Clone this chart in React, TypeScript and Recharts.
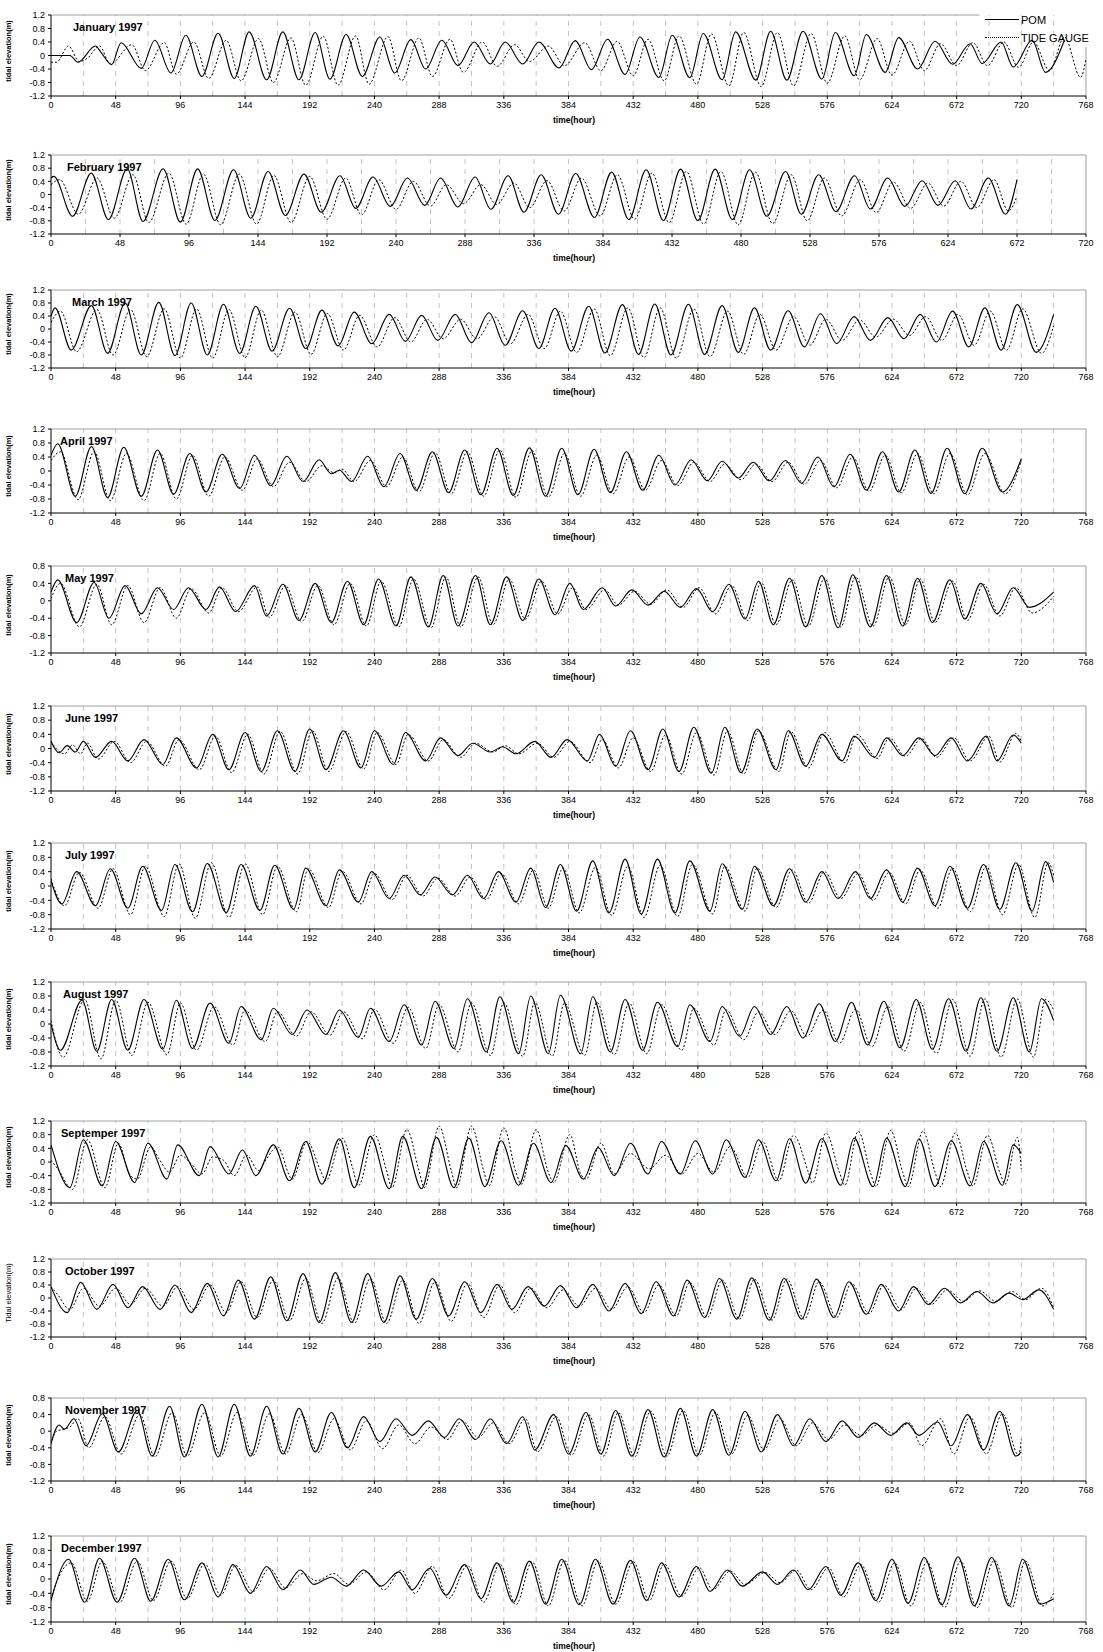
import React from "react";
import { LineChart, Line, XAxis, YAxis, ReferenceLine } from "recharts";

type Pt = [number, number];

// x / y ticks
const ticks768 = [0, 48, 96, 144, 192, 240, 288, 336, 384, 432, 480, 528, 576, 624, 672, 720, 768];
const ticks720 = [0, 48, 96, 144, 192, 240, 288, 336, 384, 432, 480, 528, 576, 624, 672, 720];
const grid768 = [24, 48, 72, 96, 120, 144, 168, 192, 216, 240, 264, 288, 312, 336, 360, 384, 408, 432, 456, 480, 504, 528, 552, 576, 600, 624, 648, 672, 696, 720, 744];
const grid720 = [24, 48, 72, 96, 120, 144, 168, 192, 216, 240, 264, 288, 312, 336, 360, 384, 408, 432, 456, 480, 504, 528, 552, 576, 600, 624, 648, 672, 696];
const yTicksFull = [1.2, 0.8, 0.4, 0, -0.4, -0.8, -1.2];
const yTicksShort = [0.8, 0.4, 0, -0.4, -0.8, -1.2];

// [hour, elevation m] read at the turning points of each curve
const janPom: Pt[] = [[0,0],[14,0],[20,-0.2],[33,0.28],[37,0.1],[45,-0.27],[52,0.38],[67,-0.38],[77,0.45],[89,-0.52],[100,0.6],[112,-0.62],[124,0.66],[136,-0.68],[147,0.7],[160,-0.72],[172,0.7],[184,-0.72],[196,0.68],[207,-0.7],[219,0.62],[231,-0.62],[244,0.55],[255,-0.52],[267,0.47],[278,-0.4],[290,0.45],[302,-0.3],[314,0.4],[326,-0.25],[337,0.4],[350,-0.25],[362,0.4],[377,-0.37],[389,0.44],[401,-0.42],[413,0.48],[426,-0.56],[437,0.55],[451,-0.65],[461,0.6],[474,-0.66],[484,0.65],[498,-0.72],[508,0.7],[523,-0.73],[534,0.72],[546,-0.73],[558,0.72],[572,-0.7],[582,0.68],[596,-0.6],[605,0.62],[619,-0.5],[629,0.53],[643,-0.4],[656,0.42],[669,-0.26],[682,0.35],[691,-0.24],[705,0.4],[714,-0.34],[728,0.45],[738,-0.5],[752,0.45]];
const janGauge: Pt[] = [[0,-0.2],[4,-0.2],[13,0.28],[21,-0.18],[27,-0.08],[36,0.28],[44,-0.25],[60,0.32],[70,-0.45],[84,0.38],[93,-0.55],[106,0.4],[117,-0.68],[130,0.45],[141,-0.75],[154,0.5],[165,-0.8],[178,0.52],[189,-0.88],[202,0.57],[213,-0.88],[226,0.58],[236,-0.85],[250,0.56],[260,-0.75],[273,0.52],[283,-0.62],[296,0.48],[306,-0.5],[320,0.4],[331,-0.32],[344,0.32],[355,-0.18],[369,0.28],[381,-0.3],[396,0.38],[408,-0.45],[420,0.42],[432,-0.6],[443,0.48],[455,-0.75],[466,0.58],[479,-0.85],[490,0.64],[503,-0.9],[514,0.68],[527,-0.92],[539,0.68],[551,-0.9],[564,0.65],[576,-0.82],[589,0.58],[600,-0.72],[613,0.5],[624,-0.58],[637,0.42],[648,-0.45],[660,0.35],[672,-0.3],[684,0.38],[695,-0.3],[707,0.4],[718,-0.35],[729,0.4],[741,-0.45],[752,0.55],[764,-0.65],[768,-0.1]];

const febPom: Pt[] = [[0,0.5],[2,0.55],[15,-0.66],[28,0.65],[40,-0.76],[53,0.78],[64,-0.82],[78,0.78],[90,-0.84],[102,0.78],[114,-0.79],[127,0.75],[139,-0.72],[151,0.7],[163,-0.64],[176,0.62],[188,-0.54],[201,0.57],[212,-0.42],[224,0.53],[236,-0.36],[248,0.5],[260,-0.33],[271,0.5],[283,-0.38],[295,0.53],[306,-0.45],[318,0.57],[329,-0.54],[341,0.6],[353,-0.6],[365,0.64],[378,-0.7],[390,0.68],[402,-0.76],[414,0.75],[426,-0.79],[438,0.77],[450,-0.79],[462,0.77],[474,-0.76],[486,0.75],[498,-0.66],[511,0.7],[522,-0.6],[534,0.6],[546,-0.52],[559,0.57],[570,-0.44],[582,0.5],[594,-0.36],[606,0.42],[617,-0.33],[629,0.42],[640,-0.44],[652,0.5],[664,-0.6],[672,0.45]];
const febGauge: Pt[] = [[0,0.3],[6,0.45],[19,-0.6],[32,0.5],[44,-0.72],[57,0.6],[68,-0.85],[82,0.65],[94,-0.9],[106,0.62],[118,-0.92],[131,0.62],[143,-0.9],[155,0.58],[167,-0.85],[180,0.55],[192,-0.75],[205,0.5],[216,-0.62],[228,0.45],[240,-0.45],[252,0.4],[264,-0.35],[275,0.3],[287,-0.28],[299,0.3],[310,-0.3],[322,0.35],[333,-0.4],[345,0.42],[357,-0.5],[369,0.5],[382,-0.65],[394,0.6],[406,-0.75],[418,0.65],[430,-0.85],[442,0.7],[454,-0.9],[466,0.7],[478,-0.92],[490,0.68],[502,-0.88],[515,0.6],[526,-0.8],[538,0.5],[550,-0.65],[563,0.45],[574,-0.55],[586,0.38],[598,-0.42],[610,0.35],[621,-0.35],[633,0.4],[644,-0.4],[656,0.45],[666,-0.5],[672,-0.05]];

const marPom: Pt[] = [[0,0.4],[3,0.65],[15,-0.65],[30,0.72],[42,-0.75],[55,0.8],[67,-0.8],[80,0.82],[92,-0.82],[104,0.8],[116,-0.8],[128,0.76],[140,-0.75],[152,0.7],[164,-0.68],[177,0.64],[189,-0.6],[201,0.58],[213,-0.52],[225,0.52],[238,-0.45],[251,0.45],[263,-0.38],[275,0.42],[287,-0.35],[300,0.45],[312,-0.42],[325,0.5],[337,-0.5],[350,0.56],[362,-0.6],[374,0.64],[386,-0.68],[399,0.7],[411,-0.74],[424,0.75],[436,-0.78],[448,0.77],[460,-0.8],[473,0.76],[485,-0.78],[498,0.72],[510,-0.72],[522,0.65],[534,-0.65],[547,0.56],[559,-0.55],[571,0.47],[583,-0.45],[596,0.38],[608,-0.35],[621,0.35],[633,-0.3],[645,0.45],[657,-0.4],[669,0.55],[681,-0.55],[693,0.65],[705,-0.65],[717,0.75],[731,-0.72],[744,0.45]];
const marGauge: Pt[] = [[0,0.2],[7,0.55],[19,-0.7],[34,0.6],[46,-0.8],[59,0.6],[71,-0.85],[84,0.62],[96,-0.9],[108,0.62],[120,-0.9],[132,0.6],[144,-0.88],[156,0.58],[168,-0.85],[181,0.52],[193,-0.78],[205,0.48],[217,-0.65],[229,0.42],[242,-0.55],[255,0.35],[267,-0.4],[279,0.3],[291,-0.3],[304,0.3],[316,-0.3],[329,0.38],[341,-0.45],[354,0.45],[366,-0.6],[378,0.55],[390,-0.72],[403,0.62],[415,-0.82],[428,0.65],[440,-0.88],[452,0.65],[464,-0.9],[477,0.62],[489,-0.85],[502,0.55],[514,-0.78],[526,0.45],[538,-0.65],[551,0.38],[563,-0.5],[575,0.3],[587,-0.35],[600,0.28],[612,-0.25],[625,0.3],[637,-0.2],[649,0.38],[661,-0.35],[673,0.45],[685,-0.5],[697,0.55],[709,-0.65],[721,0.62],[735,-0.75],[744,0.1]];

const aprPom: Pt[] = [[0,0.45],[5,0.78],[18,-0.72],[30,0.7],[42,-0.76],[54,0.68],[67,-0.72],[79,0.6],[91,-0.66],[103,0.5],[115,-0.6],[127,0.48],[140,-0.5],[151,0.45],[163,-0.42],[175,0.42],[187,-0.3],[199,0.32],[208,-0.08],[214,0.02],[223,-0.3],[235,0.42],[247,-0.45],[259,0.5],[271,-0.55],[283,0.55],[295,-0.62],[307,0.6],[319,-0.68],[331,0.65],[343,-0.7],[355,0.66],[367,-0.72],[379,0.65],[391,-0.68],[403,0.62],[415,-0.62],[427,0.55],[439,-0.55],[451,0.45],[463,-0.4],[475,0.32],[487,-0.28],[498,0.28],[510,-0.2],[521,0.25],[533,-0.28],[545,0.3],[557,-0.35],[569,0.4],[581,-0.45],[593,0.48],[605,-0.55],[617,0.55],[629,-0.6],[641,0.6],[653,-0.64],[665,0.65],[678,-0.65],[691,0.65],[706,-0.6],[720,0.35]];
const aprGauge: Pt[] = [[0,0.3],[7,0.55],[20,-0.82],[32,0.55],[44,-0.85],[56,0.5],[69,-0.85],[81,0.5],[93,-0.8],[105,0.45],[117,-0.72],[129,0.4],[142,-0.55],[153,0.35],[165,-0.45],[177,0.25],[189,-0.3],[201,0.15],[210,-0.05],[216,0.05],[225,-0.3],[237,0.3],[249,-0.45],[261,0.4],[273,-0.6],[285,0.52],[297,-0.65],[309,0.55],[321,-0.72],[333,0.6],[345,-0.75],[357,0.58],[369,-0.75],[381,0.5],[393,-0.72],[405,0.45],[417,-0.65],[429,0.4],[441,-0.55],[453,0.3],[465,-0.42],[477,0.25],[489,-0.3],[500,0.2],[512,-0.25],[523,0.2],[535,-0.3],[547,0.25],[559,-0.38],[571,0.3],[583,-0.48],[595,0.4],[607,-0.58],[619,0.45],[631,-0.62],[643,0.5],[655,-0.65],[667,0.5],[680,-0.68],[693,0.5],[708,-0.65],[720,0.3]];

const mayPom: Pt[] = [[0,0.2],[5,0.48],[19,-0.5],[32,0.42],[43,-0.4],[55,0.35],[67,-0.3],[79,0.3],[91,-0.2],[102,0.3],[115,-0.2],[125,0.32],[137,-0.25],[151,0.35],[160,-0.35],[172,0.38],[184,-0.45],[196,0.4],[208,-0.5],[220,0.45],[232,-0.55],[243,0.5],[256,-0.58],[267,0.55],[280,-0.6],[291,0.58],[302,-0.58],[315,0.58],[326,-0.55],[338,0.55],[350,-0.45],[362,0.5],[374,-0.32],[385,0.4],[395,-0.2],[409,0.3],[419,-0.12],[431,0.25],[443,-0.1],[455,0.22],[467,-0.15],[479,0.28],[491,-0.25],[503,0.38],[515,-0.42],[525,0.45],[536,-0.55],[548,0.52],[560,-0.6],[572,0.58],[584,-0.62],[595,0.6],[608,-0.6],[620,0.58],[632,-0.58],[643,0.52],[654,-0.5],[667,0.48],[678,-0.42],[690,0.4],[702,-0.3],[714,0.3],[726,-0.15],[744,0.2]];
const mayGauge: Pt[] = [[0,0.05],[7,0.4],[21,-0.6],[34,0.38],[45,-0.55],[57,0.35],[69,-0.5],[81,0.3],[93,-0.4],[104,0.28],[117,-0.28],[127,0.3],[139,-0.25],[153,0.32],[162,-0.38],[174,0.35],[186,-0.48],[198,0.35],[210,-0.55],[222,0.4],[234,-0.58],[245,0.45],[258,-0.6],[269,0.5],[282,-0.62],[293,0.55],[304,-0.6],[317,0.55],[328,-0.55],[340,0.5],[352,-0.42],[364,0.45],[376,-0.3],[387,0.3],[397,-0.2],[411,0.25],[421,-0.1],[433,0.22],[445,-0.08],[457,0.25],[469,-0.15],[481,0.3],[493,-0.3],[505,0.35],[517,-0.45],[527,0.42],[538,-0.55],[550,0.48],[562,-0.58],[574,0.52],[586,-0.6],[597,0.55],[610,-0.58],[622,0.55],[634,-0.55],[645,0.5],[656,-0.5],[669,0.45],[680,-0.45],[692,0.38],[704,-0.35],[716,0.3],[728,-0.28],[744,0.1]];

const junPom: Pt[] = [[0,0.2],[6,-0.12],[12,0.08],[18,-0.1],[24,0.2],[33,-0.25],[45,0.2],[57,-0.35],[69,0.25],[83,-0.45],[93,0.3],[108,-0.55],[120,0.4],[132,-0.6],[144,0.45],[156,-0.65],[168,0.5],[181,-0.65],[192,0.55],[204,-0.6],[217,0.5],[230,-0.55],[240,0.5],[254,-0.45],[263,0.45],[278,-0.35],[289,0.3],[302,-0.2],[313,0.15],[326,-0.1],[335,0.05],[345,-0.15],[359,0.2],[371,-0.25],[383,0.25],[398,-0.35],[407,0.4],[419,-0.5],[430,0.5],[443,-0.6],[454,0.55],[466,-0.65],[477,0.6],[490,-0.7],[500,0.6],[512,-0.68],[524,0.55],[538,-0.6],[547,0.5],[560,-0.5],[572,0.4],[587,-0.35],[596,0.35],[611,-0.25],[620,0.3],[632,-0.2],[644,0.3],[656,-0.2],[668,0.3],[680,-0.35],[694,0.35],[702,-0.35],[714,0.38],[720,0.15]];
const junGauge: Pt[] = [[0,0.2],[5,-0.05],[10,-0.15],[16,0.1],[22,-0.15],[27,0.15],[35,-0.3],[47,0.2],[59,-0.4],[71,0.2],[85,-0.5],[95,0.25],[110,-0.6],[122,0.35],[134,-0.68],[146,0.4],[158,-0.72],[170,0.48],[183,-0.72],[194,0.5],[206,-0.65],[219,0.48],[232,-0.58],[242,0.45],[256,-0.45],[265,0.4],[280,-0.35],[291,0.25],[304,-0.25],[315,0.15],[328,-0.1],[337,0.08],[347,-0.15],[361,0.15],[373,-0.25],[385,0.2],[400,-0.4],[409,0.25],[421,-0.55],[432,0.3],[445,-0.65],[456,0.38],[468,-0.72],[479,0.45],[492,-0.75],[502,0.5],[514,-0.72],[525,0.5],[540,-0.65],[549,0.48],[562,-0.55],[574,0.45],[589,-0.4],[598,0.4],[613,-0.28],[622,0.3],[634,-0.22],[646,0.28],[657,-0.25],[670,0.3],[682,-0.35],[696,0.35],[704,-0.38],[716,0.42],[720,0.2]];

const julPom: Pt[] = [[0,0.15],[8,-0.5],[19,0.4],[33,-0.55],[44,0.48],[57,-0.62],[68,0.55],[82,-0.68],[92,0.6],[105,-0.72],[116,0.63],[130,-0.74],[141,0.6],[155,-0.68],[166,0.58],[180,-0.65],[189,0.5],[204,-0.55],[214,0.45],[228,-0.45],[238,0.4],[251,-0.35],[262,0.3],[274,-0.25],[285,0.25],[298,-0.25],[309,0.3],[321,-0.35],[332,0.4],[345,-0.45],[356,0.5],[367,-0.6],[378,0.6],[390,-0.7],[402,0.7],[414,-0.75],[426,0.75],[438,-0.78],[450,0.75],[463,-0.75],[474,0.7],[489,-0.7],[498,0.62],[513,-0.65],[522,0.55],[536,-0.55],[548,0.48],[560,-0.45],[572,0.4],[584,-0.35],[597,0.4],[608,-0.35],[620,0.45],[632,-0.45],[643,0.5],[656,-0.55],[667,0.55],[680,-0.62],[692,0.6],[704,-0.65],[716,0.65],[728,-0.7],[738,0.68],[744,0.1]];
const julGauge: Pt[] = [[0,0.2],[10,-0.55],[21,0.38],[35,-0.62],[46,0.48],[59,-0.8],[70,0.55],[84,-0.85],[95,0.62],[107,-0.9],[119,0.65],[132,-0.88],[144,0.62],[157,-0.8],[168,0.55],[182,-0.72],[191,0.48],[206,-0.6],[216,0.42],[230,-0.5],[240,0.35],[253,-0.38],[264,0.3],[276,-0.28],[287,0.22],[300,-0.28],[311,0.25],[323,-0.38],[334,0.35],[347,-0.5],[358,0.45],[369,-0.62],[380,0.5],[392,-0.75],[404,0.52],[416,-0.82],[428,0.55],[440,-0.88],[452,0.58],[465,-0.85],[476,0.6],[491,-0.78],[500,0.55],[515,-0.7],[524,0.5],[538,-0.6],[550,0.45],[562,-0.48],[574,0.4],[586,-0.35],[599,0.35],[610,-0.4],[622,0.38],[634,-0.5],[645,0.45],[658,-0.62],[669,0.5],[682,-0.72],[694,0.55],[706,-0.8],[718,0.6],[730,-0.88],[740,0.65],[744,0.3]];

const augPom: Pt[] = [[0,0],[7,-0.75],[23,0.68],[34,-0.78],[45,0.7],[57,-0.75],[69,0.7],[83,-0.72],[93,0.68],[105,-0.7],[118,0.6],[132,-0.55],[141,0.5],[156,-0.45],[165,0.45],[179,-0.3],[190,0.4],[204,-0.3],[214,0.4],[228,-0.38],[237,0.45],[251,-0.5],[262,0.55],[275,-0.6],[285,0.65],[299,-0.7],[309,0.72],[323,-0.8],[333,0.78],[347,-0.85],[356,0.8],[369,-0.85],[378,0.82],[393,-0.85],[402,0.78],[415,-0.8],[426,0.7],[439,-0.75],[450,0.62],[465,-0.65],[474,0.55],[489,-0.5],[498,0.5],[511,-0.35],[522,0.5],[534,-0.3],[546,0.5],[558,-0.4],[570,0.58],[582,-0.5],[594,0.62],[606,-0.6],[618,0.65],[630,-0.68],[642,0.7],[654,-0.72],[666,0.72],[679,-0.78],[690,0.75],[702,-0.78],[714,0.75],[726,-0.8],[735,0.72],[744,0.1]];
const augGauge: Pt[] = [[0,0.1],[9,-0.95],[25,0.7],[37,-1.0],[48,0.68],[60,-0.9],[72,0.62],[86,-0.88],[96,0.6],[108,-0.75],[121,0.5],[135,-0.6],[144,0.4],[159,-0.5],[168,0.35],[182,-0.35],[193,0.35],[207,-0.32],[217,0.35],[231,-0.42],[240,0.42],[254,-0.55],[265,0.48],[278,-0.7],[288,0.55],[302,-0.8],[312,0.6],[326,-0.9],[336,0.6],[350,-0.92],[359,0.62],[372,-0.92],[381,0.6],[396,-0.9],[405,0.62],[418,-0.88],[429,0.6],[442,-0.85],[453,0.55],[468,-0.75],[477,0.45],[492,-0.6],[501,0.4],[514,-0.45],[525,0.35],[537,-0.3],[549,0.38],[561,-0.35],[573,0.4],[585,-0.55],[597,0.42],[609,-0.65],[621,0.5],[633,-0.78],[645,0.62],[657,-0.85],[669,0.7],[682,-0.92],[693,0.72],[705,-0.95],[717,0.72],[729,-0.95],[738,0.7],[744,0.4]];

const sepPom: Pt[] = [[0,0.5],[14,-0.75],[24,0.65],[38,-0.7],[48,0.6],[62,-0.6],[72,0.55],[86,-0.5],[94,0.5],[110,-0.4],[118,0.45],[132,-0.35],[142,0.35],[152,-0.4],[165,0.5],[177,-0.55],[189,0.6],[201,-0.65],[214,0.68],[225,-0.75],[237,0.75],[251,-0.78],[261,0.75],[275,-0.78],[286,0.72],[299,-0.75],[310,0.7],[322,-0.72],[334,0.62],[347,-0.68],[358,0.55],[371,-0.6],[382,0.48],[395,-0.5],[406,0.42],[418,-0.4],[430,0.55],[443,-0.35],[453,0.6],[467,-0.35],[478,0.62],[491,-0.35],[501,0.65],[515,-0.45],[525,0.65],[538,-0.55],[548,0.68],[560,-0.62],[572,0.68],[586,-0.68],[596,0.7],[610,-0.72],[620,0.7],[634,-0.72],[644,0.68],[656,-0.72],[668,0.62],[682,-0.7],[692,0.6],[706,-0.68],[714,0.5],[720,0.25]];
const sepGauge: Pt[] = [[0,0.05],[5,-0.2],[16,-0.8],[27,0.65],[40,-0.75],[50,0.55],[58,-0.35],[64,-0.5],[74,0.45],[80,0.1],[88,-0.3],[96,0.2],[104,-0.05],[112,-0.35],[120,0.15],[128,0.05],[136,-0.4],[145,0.2],[154,-0.25],[160,0.1],[168,0.45],[179,-0.5],[190,0.6],[200,-0.25],[204,-0.55],[216,0.7],[224,-0.2],[228,-0.7],[240,0.8],[249,-0.25],[253,-0.75],[264,0.95],[273,-0.25],[277,-0.75],[288,1.05],[297,-0.25],[301,-0.75],[312,1.05],[321,-0.25],[325,-0.7],[336,1.0],[345,-0.3],[349,-0.65],[360,0.95],[369,-0.3],[373,-0.6],[385,0.8],[393,-0.35],[397,-0.5],[408,0.55],[418,-0.35],[430,0.25],[444,-0.2],[456,0.2],[468,-0.35],[480,0.25],[492,-0.3],[504,0.45],[517,-0.45],[528,0.6],[540,-0.55],[551,0.78],[562,-0.3],[565,-0.62],[575,0.85],[585,-0.3],[589,-0.68],[599,0.9],[608,-0.3],[612,-0.72],[623,0.92],[632,-0.3],[636,-0.72],[647,0.9],[656,-0.3],[660,-0.72],[671,0.85],[680,-0.3],[684,-0.7],[695,0.78],[704,-0.3],[708,-0.65],[717,0.72],[720,-0.2]];

const octPom: Pt[] = [[0,0.35],[12,-0.45],[22,0.48],[34,-0.35],[46,0.42],[57,-0.3],[68,0.35],[81,-0.35],[92,0.4],[104,-0.45],[116,0.45],[128,-0.55],[139,0.55],[151,-0.65],[163,0.65],[175,-0.7],[187,0.75],[199,-0.75],[211,0.78],[223,-0.75],[235,0.75],[247,-0.75],[259,0.68],[271,-0.65],[283,0.6],[295,-0.55],[307,0.5],[319,-0.45],[331,0.42],[342,-0.35],[354,0.35],[366,-0.25],[378,0.38],[390,-0.3],[402,0.42],[414,-0.4],[426,0.45],[438,-0.48],[449,0.5],[462,-0.55],[472,0.55],[485,-0.6],[496,0.6],[509,-0.65],[520,0.62],[533,-0.68],[544,0.6],[557,-0.65],[568,0.58],[581,-0.6],[592,0.5],[605,-0.5],[616,0.42],[629,-0.4],[640,0.35],[651,-0.2],[663,0.3],[675,-0.15],[687,0.2],[699,-0.15],[711,0.15],[721,-0.05],[733,0.25],[744,-0.35]];
const octGauge: Pt[] = [[0,0.35],[5,0.1],[14,-0.35],[24,0.3],[36,-0.25],[48,0.3],[59,-0.2],[70,0.3],[83,-0.25],[94,0.35],[106,-0.35],[118,0.4],[130,-0.45],[141,0.5],[153,-0.6],[165,0.55],[177,-0.7],[189,0.6],[201,-0.78],[213,0.62],[225,-0.78],[237,0.6],[249,-0.78],[261,0.55],[273,-0.78],[285,0.5],[297,-0.72],[309,0.45],[321,-0.6],[333,0.4],[344,-0.45],[356,0.3],[368,-0.3],[380,0.25],[392,-0.25],[404,0.3],[416,-0.35],[428,0.35],[440,-0.45],[451,0.4],[464,-0.55],[474,0.48],[487,-0.6],[498,0.55],[511,-0.65],[522,0.58],[535,-0.68],[546,0.58],[559,-0.65],[570,0.5],[583,-0.6],[594,0.45],[607,-0.48],[618,0.4],[631,-0.35],[642,0.3],[653,-0.2],[665,0.25],[677,-0.1],[689,0.22],[701,-0.1],[713,0.2],[723,-0.05],[735,0.3],[744,-0.3]];

const novPom: Pt[] = [[0,-0.3],[6,0.15],[10,0.05],[17,0.3],[26,-0.35],[38,0.42],[50,-0.5],[64,0.5],[75,-0.6],[88,0.6],[99,-0.62],[112,0.65],[124,-0.62],[136,0.65],[148,-0.6],[160,0.6],[172,-0.55],[184,0.55],[196,-0.5],[208,0.45],[220,-0.4],[232,0.35],[244,-0.25],[256,0.3],[268,-0.1],[280,0.25],[292,-0.15],[303,0.3],[315,-0.2],[326,0.3],[338,-0.3],[350,0.35],[359,-0.45],[373,0.4],[384,-0.55],[397,0.45],[408,-0.55],[419,0.5],[431,-0.6],[443,0.52],[455,-0.62],[467,0.55],[479,-0.6],[491,0.52],[503,-0.58],[515,0.48],[527,-0.5],[539,0.4],[551,-0.35],[563,0.3],[575,-0.25],[587,0.25],[599,-0.15],[611,0.2],[623,-0.1],[635,0.2],[644,-0.1],[658,0.22],[668,-0.35],[680,0.4],[692,-0.45],[704,0.48],[716,-0.6],[720,-0.5]];
const novGauge: Pt[] = [[0,-0.3],[4,0],[10,0.05],[14,0.1],[20,0.3],[28,-0.4],[40,0.35],[52,-0.55],[66,0.4],[77,-0.62],[90,0.45],[101,-0.6],[114,0.45],[126,-0.6],[138,0.45],[150,-0.58],[162,0.42],[174,-0.55],[186,0.4],[198,-0.52],[210,0.3],[222,-0.45],[234,0.25],[246,-0.42],[258,0.15],[270,-0.3],[282,0.1],[294,-0.2],[305,0.25],[317,-0.15],[328,0.2],[340,-0.3],[352,0.3],[361,-0.5],[375,0.35],[386,-0.58],[399,0.4],[410,-0.6],[421,0.45],[433,-0.62],[445,0.48],[457,-0.6],[469,0.5],[481,-0.58],[493,0.45],[505,-0.55],[517,0.38],[529,-0.45],[541,0.3],[553,-0.35],[565,0.2],[577,-0.2],[589,0.15],[601,-0.1],[613,0.15],[625,-0.05],[637,0.2],[646,-0.35],[660,0.3],[670,-0.55],[682,0.35],[694,-0.55],[706,0.42],[718,-0.58],[720,-0.2]];

const decPom: Pt[] = [[0,-0.6],[13,0.55],[25,-0.65],[36,0.58],[49,-0.65],[62,0.58],[74,-0.62],[87,0.55],[99,-0.58],[112,0.45],[124,-0.5],[135,0.4],[148,-0.4],[160,0.35],[172,-0.3],[185,0.25],[195,-0.15],[208,0.05],[219,-0.2],[232,0.25],[245,-0.2],[258,0.2],[268,-0.3],[281,0.3],[293,-0.45],[307,0.4],[319,-0.55],[331,0.45],[343,-0.65],[355,0.5],[367,-0.7],[379,0.55],[392,-0.72],[404,0.55],[417,-0.7],[430,0.52],[442,-0.6],[453,0.45],[466,-0.5],[479,0.35],[489,-0.35],[502,0.25],[513,-0.2],[528,0.2],[539,-0.15],[551,0.25],[562,-0.3],[575,0.35],[586,-0.45],[599,0.45],[612,-0.6],[624,0.55],[636,-0.68],[648,0.6],[661,-0.72],[673,0.62],[685,-0.75],[698,0.6],[711,-0.75],[721,0.55],[734,-0.7],[744,-0.55]];
const decGauge: Pt[] = [[0,-0.55],[4,-0.1],[15,0.45],[27,-0.62],[38,0.5],[51,-0.65],[64,0.5],[76,-0.6],[89,0.5],[101,-0.55],[114,0.42],[126,-0.45],[137,0.38],[150,-0.35],[162,0.3],[174,-0.25],[187,0.15],[197,-0.05],[210,0.15],[221,-0.15],[234,0.2],[247,-0.3],[260,0.25],[270,-0.4],[283,0.35],[295,-0.55],[309,0.38],[321,-0.65],[333,0.42],[345,-0.72],[357,0.48],[369,-0.75],[381,0.52],[394,-0.75],[406,0.5],[419,-0.7],[432,0.48],[444,-0.6],[455,0.42],[468,-0.48],[481,0.32],[491,-0.3],[504,0.22],[515,-0.15],[530,0.18],[541,-0.1],[553,0.25],[564,-0.3],[577,0.32],[588,-0.5],[601,0.4],[614,-0.65],[626,0.45],[638,-0.75],[650,0.48],[663,-0.8],[675,0.5],[687,-0.8],[700,0.52],[713,-0.8],[723,0.5],[736,-0.75],[744,-0.4]];

interface PanelDef {
  title: string;
  pom: Pt[];
  gauge: Pt[];
  top: number;
  bottom: number;
  xMax: number;
  xTicks: number[];
  grid: number[];
  yTicks: number[];
  titleX: number;
  yLabel?: string;
  legend?: boolean;
}

const panels: PanelDef[] = [
  { title: "January 1997", pom: janPom, gauge: janGauge, top: 15, bottom: 96, xMax: 768, xTicks: ticks768, grid: grid768, yTicks: yTicksFull, titleX: 73, legend: true },
  { title: "February 1997", pom: febPom, gauge: febGauge, top: 155, bottom: 234, xMax: 720, xTicks: ticks720, grid: grid720, yTicks: yTicksFull, titleX: 67 },
  { title: "March 1997", pom: marPom, gauge: marGauge, top: 290, bottom: 368, xMax: 768, xTicks: ticks768, grid: grid768, yTicks: yTicksFull, titleX: 72 },
  { title: "April 1997", pom: aprPom, gauge: aprGauge, top: 429, bottom: 513, xMax: 768, xTicks: ticks768, grid: grid768, yTicks: yTicksFull, titleX: 60 },
  { title: "May 1997", pom: mayPom, gauge: mayGauge, top: 566, bottom: 653, xMax: 768, xTicks: ticks768, grid: grid768, yTicks: yTicksShort, titleX: 65 },
  { title: "June 1997", pom: junPom, gauge: junGauge, top: 706, bottom: 791, xMax: 768, xTicks: ticks768, grid: grid768, yTicks: yTicksFull, titleX: 65 },
  { title: "July 1997", pom: julPom, gauge: julGauge, top: 843, bottom: 929, xMax: 768, xTicks: ticks768, grid: grid768, yTicks: yTicksFull, titleX: 65 },
  { title: "August 1997", pom: augPom, gauge: augGauge, top: 982, bottom: 1066, xMax: 768, xTicks: ticks768, grid: grid768, yTicks: yTicksFull, titleX: 63 },
  { title: "Septemper 1997", pom: sepPom, gauge: sepGauge, top: 1121, bottom: 1203, xMax: 768, xTicks: ticks768, grid: grid768, yTicks: yTicksFull, titleX: 61 },
  { title: "October 1997", pom: octPom, gauge: octGauge, top: 1259, bottom: 1337, xMax: 768, xTicks: ticks768, grid: grid768, yTicks: yTicksFull, titleX: 65, yLabel: "Tidal elevation(m)" },
  { title: "November 1997", pom: novPom, gauge: novGauge, top: 1398, bottom: 1481, xMax: 768, xTicks: ticks768, grid: grid768, yTicks: yTicksShort, titleX: 65 },
  { title: "December 1997", pom: decPom, gauge: decGauge, top: 1536, bottom: 1622, xMax: 768, xTicks: ticks768, grid: grid768, yTicks: yTicksFull, titleX: 61 },
];

const FONT = "Arial, 'Liberation Sans', Helvetica, sans-serif";
const toRows = (pts: Pt[]) => pts.map(([t, v]) => ({ t, v }));

function Panel({ p }: { p: PanelDef }) {
  const plotH = p.bottom - p.top;
  const yMax = p.yTicks[0];
  const tick = { fontSize: 9, fill: "#000", fontFamily: FONT };
  const border = "#a0a0a0";
  return (
    <>
      <div style={{ position: "absolute", left: 0, top: p.top - 8 }}>
        <LineChart width={1103} height={plotH + 38} margin={{ top: 8, right: 17, bottom: 0, left: 0 }}>
          {p.grid.map((g) => (
            <ReferenceLine key={g} x={g} stroke="#c4c4c4" strokeDasharray="5 5" />
          ))}
          {p.legend ? (
            <ReferenceLine segment={[{ x: 0, y: yMax }, { x: 689, y: yMax }]} stroke={border} />
          ) : (
            <ReferenceLine y={yMax} stroke={border} />
          )}
          {p.legend ? (
            <ReferenceLine segment={[{ x: p.xMax, y: -1.2 }, { x: p.xMax, y: 0.25 }]} stroke={border} />
          ) : (
            <ReferenceLine x={p.xMax} stroke={border} />
          )}
          <XAxis
            type="number"
            dataKey="t"
            domain={[0, p.xMax]}
            ticks={p.xTicks}
            interval={0}
            height={30}
            tickSize={3}
            tickMargin={3}
            tick={tick}
            axisLine={{ stroke: "#000" }}
            tickLine={{ stroke: "#000" }}
            allowDataOverflow
          />
          <YAxis
            type="number"
            domain={[-1.2, yMax]}
            ticks={p.yTicks}
            interval={0}
            width={51}
            tickSize={3}
            tickMargin={3}
            tick={tick}
            axisLine={{ stroke: "#000" }}
            tickLine={{ stroke: "#000" }}
            allowDataOverflow
          />
          <Line
            data={toRows(p.gauge)}
            dataKey="v"
            type="monotone"
            stroke="#000"
            strokeWidth={1}
            strokeDasharray="2 2"
            dot={false}
            activeDot={false}
            isAnimationActive={false}
          />
          <Line
            data={toRows(p.pom)}
            dataKey="v"
            type="monotone"
            stroke="#000"
            strokeWidth={1.1}
            dot={false}
            activeDot={false}
            isAnimationActive={false}
          />
        </LineChart>
      </div>
      <div
        style={{
          position: "absolute",
          left: p.titleX,
          top: p.top + 6,
          fontSize: 11,
          fontWeight: "bold",
          fontFamily: FONT,
          lineHeight: "13px",
          whiteSpace: "nowrap",
        }}
      >
        {p.title}
      </div>
      <div
        style={{
          position: "absolute",
          left: 8,
          top: (p.top + p.bottom) / 2 - 5,
          transform: "translate(-50%, -50%) rotate(-90deg)",
          fontSize: 7.5,
          fontWeight: p.yLabel ? "normal" : "bold",
          fontFamily: FONT,
          whiteSpace: "nowrap",
          lineHeight: "9px",
        }}
      >
        {p.yLabel ?? "tidal elevation(m)"}
      </div>
      <div
        style={{
          position: "absolute",
          left: 574,
          top: p.bottom + 19,
          transform: "translateX(-50%)",
          fontSize: 8.5,
          fontWeight: "bold",
          fontFamily: FONT,
          whiteSpace: "nowrap",
          lineHeight: "10px",
        }}
      >
        time(hour)
      </div>
    </>
  );
}

function Legend() {
  const text = { position: "absolute" as const, left: 1021, fontSize: 11, fontFamily: FONT, lineHeight: "12px", whiteSpace: "nowrap" as const };
  return (
    <>
      <div style={{ position: "absolute", left: 985, top: 19, width: 34, borderTop: "1.3px solid #000" }} />
      <div style={{ ...text, top: 14 }}>POM</div>
      <div style={{ position: "absolute", left: 985, top: 37, width: 34, borderTop: "1px dotted #000" }} />
      <div style={{ ...text, top: 32 }}>TIDE GAUGE</div>
    </>
  );
}

export default function App() {
  return (
    <div style={{ position: "absolute", left: 0, top: 0, width: 1103, height: 1652, background: "#fff", overflow: "hidden" }}>
      {panels.map((p) => (
        <Panel key={p.title} p={p} />
      ))}
      <Legend />
    </div>
  );
}
